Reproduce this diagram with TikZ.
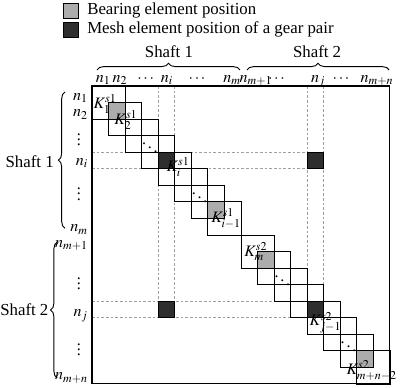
\documentclass[tikz,border=0pt]{standalone}
\usepackage{amsmath}
\usepackage{mathptmx}
\usepackage[no-math]{fontspec}
\setmainfont{Liberation Serif}
\usetikzlibrary{decorations.pathreplacing, positioning}

\tikzset{
	blk/.style={draw=black, line width=0.6pt},
	griddash/.style={draw=gray!75, dash pattern=on 2pt off 1.5pt, line width=0.45pt},
	bearing/.style={fill=gray!65},
	mesh/.style={fill=black!82, draw=black, line width=0.6pt},
	brc/.style={decorate, decoration={brace, amplitude=5pt}, line width=0.7pt},
	lbl/.style={inner sep=0pt, font=\fontsize{12}{14}\selectfont},
	txt/.style={inner sep=0pt, font=\fontsize{12.6}{14}\selectfont},
}

\begin{document}
\begin{tikzpicture}[x=12.41pt, y=12.41pt]
	\useasboundingbox (-5.559,5.196) rectangle (18.61,-18.19);
	
	% legend
	\filldraw[bearing, draw=black, line width=0.5pt] (-1.75,4.98) rectangle (-0.8,4.1);
	\filldraw[mesh, line width=0.5pt] (-1.75,3.87) rectangle (-0.8,2.92);
	\node[txt, anchor=base west] (bearingtxt) at (-0.3,4.29) {Bearing element position};
	\node[txt, anchor=base west] (meshtxt) at (-0.3,3.2) {Mesh element position of a gear pair};
	
	% dashed guides to the mesh positions
	\draw[griddash] (0,-4) -- (13,-4) (0,-5) -- (13,-5) (0,-13) -- (13,-13) (0,-14) -- (13,-14);
	\draw[griddash] (4,0) -- (4,-13) (5,0) -- (5,-13) (13,0) -- (13,-13) (14,0) -- (14,-13);
	
	% coupled cells
	\foreach \k in {1,7,10,16}
		\fill[bearing] (\k,-\k) rectangle ++(1,-1);
	\foreach \r/\c in {4/4,4/13,13/4,13/13}
		\filldraw[mesh] (\c,-\r) rectangle ++(1,-1);
	
	% shaft element blocks
	\foreach \k in {0,1,2,3,4,5,6,7,9,10,11,12,13,14,15,16}
		\draw[blk] (\k,-\k) rectangle ++(2,-2);
	
	\draw[line width=0.8pt] (0,0) rectangle (18,-18);
	
	\foreach \k [count=\i] in {3,6,11,15}
		\node[lbl] (dd\i) at (\k+0.5,-\k-0.5) {$\ddots$};
	
	% element labels
	\node[lbl] (k1) at (0.79,-1.09) {$K_1^{s1}$};
	\node[lbl] (k2) at (2.05,-2.05) {$K_2^{s1}$};
	\node[lbl] (ki) at (5.2,-4.9) {$K_i^{s1}$};
	\node[lbl] (kim) at (8.1,-8.0) {$K_{i-1}^{s1}$};
	\node[lbl] (km) at (9.9,-10.0) {$K_m^{s2}$};
	\node[lbl] (kjm) at (14.1,-14.3) {$K_{j-1}^{s2}$};
	\node[lbl] (kmn) at (16.9,-17.2) {$K_{m+n-2}^{s2}$};
	
	% column nodes
	\foreach \x/\t [count=\i] in {0.67/n_1, 1.69/n_2, 3.3/\cdots, 4.53/n_i, 6.4/\cdots, 8.46/n_m, 9.91/n_{m+1}, 11.2/\cdots, 13.66/n_j, 15.1/\cdots, 17.22/n_{m+n}}
		\node[lbl, anchor=base] (col\i) at (\x,0.24) {$\t$};
	
	% row nodes
	\foreach \y/\t [count=\i] in {0.85/n_1, 1.87/n_2, 4.8/n_i, 8.8/n_m, 9.75/n_{m+1}, 13.95/n_j, 17.75/n_{m+n}}
		\node[lbl, anchor=base east] (row\i) at (-0.24,-\y) {$\t$};
	\foreach \y [count=\i] in {3.0,6.3,11.7,15.7}
		\node[lbl] (vd\i) at (-0.79,-\y) {$\vdots$};
	
	% shafts
	\draw[brc] (0.3,0.97) -- (8.94,0.97);
	\draw[brc] (9.37,0.97) -- (17.95,0.97);
	\node[txt, anchor=base] (shafttop1) at (4.65,1.75) {Shaft 1};
	\node[txt, anchor=base] (shafttop2) at (13.6,1.75) {Shaft 2};
	
	\draw[brc] (-1.63,-8.6) -- (-1.63,-0.36);
	\draw[brc] (-2.1,-17.64) -- (-2.1,-9.43);
	\node[txt, anchor=east] (shaftleft1) at (-2.3,-4.6) {Shaft 1};
	\node[txt, anchor=east] (shaftleft2) at (-2.62,-13.5) {Shaft 2};
\end{tikzpicture}
\end{document}
